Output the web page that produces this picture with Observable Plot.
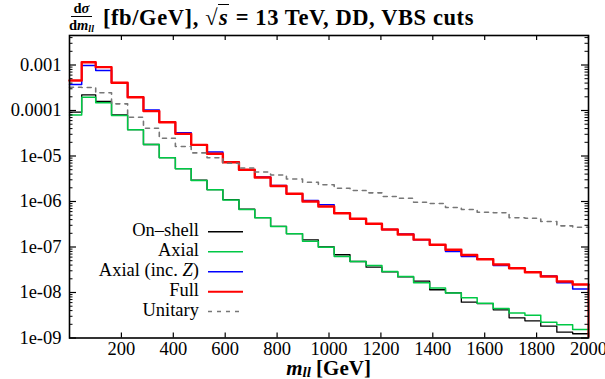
<!DOCTYPE html>
<html><head><meta charset="utf-8">
<script src="https://cdn.jsdelivr.net/npm/d3@7"></script>
<script src="https://cdn.jsdelivr.net/npm/@observablehq/plot@0.6"></script>
<style>
body{margin:0;background:#fff;font-family:"Liberation Serif",serif;color:#000}
#wrap{position:relative;width:605px;height:379px;overflow:hidden}
#title{position:absolute;left:69px;top:0;height:36px;font-weight:bold;font-size:22.5px;letter-spacing:0.6px;white-space:nowrap;display:flex;align-items:center}
.frac{display:inline-flex;flex-direction:column;align-items:center;font-size:14.5px;line-height:13px;margin-right:9px;letter-spacing:0}
.frac .num{border-bottom:1.3px solid #000;padding:0 3px 1px 3px}
.frac .den{padding-top:2px}
.sqrt{border-top:1.6px solid #000;padding:0 1px;line-height:20px}
#xlabel{position:absolute;left:0;width:657px;text-align:center;top:360px;line-height:16px;font-weight:bold;font-size:21px}
#xlabel sub{font-size:15px;vertical-align:-2px;line-height:0}
#legend{position:absolute;left:0;top:0}
</style></head>
<body><div id="wrap">
<div id="title"><span class="frac"><span class="num">d<i>σ</i></span><span class="den">d<i>m</i><i style="font-size:10px;vertical-align:-2px">ll</i></span></span><span>[fb/GeV], √<span class="sqrt"><i>s</i></span> = 13 TeV, DD, VBS cuts</span></div>
<div id="chart" style="position:absolute;left:0;top:34px"></div>
<div id="xlabel"><i>m</i><sub><i>ll</i></sub> [GeV]</div>
<svg id="legend" width="605" height="379"></svg>
</div>
<script>
// bin edges in GeV
const edges = [0, 47, 101, 162, 224, 285, 346, 408, 469, 530, 591, 653, 714, 775, 836, 898, 959, 1020, 1081, 1143, 1204, 1265, 1326, 1388, 1449, 1510, 1571, 1633, 1694, 1755, 1816, 1878, 1939, 2000];

const onShell = [9.18e-5, 2.21e-4, 1.58e-4, 7.96e-5, 3.8e-5, 1.79e-5, 9.25e-6, 5.3e-6, 2.93e-6, 1.83e-6, 1.1e-6, 6.83e-7, 4.44e-7, 2.85e-7, 1.97e-7, 1.44e-7, 1.01e-7, 6.75e-8, 4.8e-8, 3.6e-8, 2.83e-8, 2.2e-8, 1.77e-8, 1.15e-8, 9.8e-9, 6.12e-9, 5.7e-9, 4.17e-9, 2.78e-9, 2.38e-9, 1.82e-9, 1.34e-9, 1.24e-9];
const axial = [7.96e-5, 1.96e-4, 1.48e-4, 7.76e-5, 3.77e-5, 1.79e-5, 9.12e-6, 5.24e-6, 2.9e-6, 1.81e-6, 1.08e-6, 6.67e-7, 4.39e-7, 2.83e-7, 1.95e-7, 1.34e-7, 9.9e-8, 6.18e-8, 4.8e-8, 3.92e-8, 2.9e-8, 2.25e-8, 1.63e-8, 1.25e-8, 9.8e-9, 7.65e-9, 5.82e-9, 4.45e-9, 3.54e-9, 3.17e-9, 2.22e-9, 1.96e-9, 1.54e-9];
const axialZ = [3.72e-4, 9.75e-4, 7.57e-4, 4.06e-4, 1.96e-4, 1.02e-4, 5.53e-5, 3.25e-5, 1.76e-5, 1.22e-5, 7.5e-6, 4.98e-6, 3.45e-6, 2.25e-6, 1.48e-6, 1.05e-6, 8.45e-7, 5.53e-7, 4.17e-7, 3.24e-7, 2.43e-7, 1.92e-7, 1.45e-7, 1.12e-7, 7.96e-8, 6.18e-8, 5.4e-8, 3.9e-8, 3.42e-8, 2.85e-8, 2.3e-8, 1.63e-8, 1.2e-8];
const full = [4.56e-4, 1.15e-3, 8.96e-4, 4.06e-4, 1.96e-4, 9.7e-5, 5.53e-5, 3.07e-5, 1.76e-5, 1.12e-5, 7.3e-6, 4.98e-6, 3.37e-6, 2.19e-6, 1.48e-6, 1.0e-6, 7.76e-7, 5.53e-7, 4.17e-7, 3.24e-7, 2.43e-7, 1.88e-7, 1.45e-7, 1.12e-7, 8.67e-8, 6.67e-8, 5.4e-8, 4.12e-8, 3.42e-8, 2.79e-8, 2.25e-8, 1.75e-8, 1.5e-8];
const unitary = [3.25e-4, 3.2e-4, 2.45e-4, 1.4e-4, 7.13e-5, 4.08e-5, 2.46e-5, 1.62e-5, 1.17e-5, 9.12e-6, 6.95e-6, 5.44e-6, 4.44e-6, 3.82e-6, 3.13e-6, 2.65e-6, 2.33e-6, 1.96e-6, 1.75e-6, 1.55e-6, 1.29e-6, 1.18e-6, 9.66e-7, 9.04e-7, 7.38e-7, 6.67e-7, 5.82e-7, 5.65e-7, 4.39e-7, 4.3e-7, 3.63e-7, 2.92e-7, 2.72e-7];

const seriesNames = ["On–shell", "Axial", "Axial (inc. Z)", "Full", "Unitary"];
const seriesColors = ["#000000", "#00c845", "#0000ff", "#ff0000", "#777777"];
const xTicks = [200, 400, 600, 800, 1000, 1200, 1400, 1600, 1800, 2000];
const yTicks = [1e-3, 1e-4, 1e-5, 1e-6, 1e-7, 1e-8, 1e-9];
const yTickLabels = ["0.001", "0.0001", "1e-05", "1e-06", "1e-07", "1e-08", "1e-09"];
const yDomain = [1e-9, 4.45e-3];

const yMinor = [];
for (let e = -9; e <= -3; e++) for (let m = 2; m <= 9; m++) { const v = m * Math.pow(10, e); if (v < yDomain[1]) yMinor.push(v); }

function steps(vals) {
  const pts = vals.map((v, i) => ({x: edges[i], y: v}));
  pts.push({x: edges[edges.length - 1], y: vals[vals.length - 1]});
  return pts;
}
const widths = [1.3, 1.5, 1.5, 2.4, 1.6];
const allSeries = [onShell, axial, axialZ, full, unitary];

const W = 605, H = 345, mT = 1, mB = 41.5, mL = 69, mR = 17;
const innerW = W - mL - mR, innerH = H - mT - mB;
const majorLen = 7, minorLen = 3.5, xTickLen = 5;

const lineMarks = allSeries.map((s, i) => Plot.line(steps(s), {
  x: "x", y: "y", curve: "step-after", stroke: seriesColors[i], strokeWidth: widths[i],
  strokeDasharray: i === 4 ? "4,5" : null
}));

const plot = Plot.plot({
  width: W, height: H,
  marginTop: mT, marginBottom: mB, marginLeft: mL, marginRight: mR,
  x: {domain: [0, 2000]},
  y: {type: "log", domain: yDomain},
  style: {fontFamily: "'Liberation Serif', serif", fontSize: "18.5px", color: "#000", background: "#fff", overflow: "visible"},
  marks: [
    ...lineMarks.slice(0, 4),
    Plot.ruleX([edges[edges.length - 1]], {y1: full[full.length - 1], y2: yDomain[0], stroke: seriesColors[3], strokeWidth: 2}),
    lineMarks[4],
    // inward ticks
    Plot.ruleX(xTicks, {insetTop: innerH - xTickLen, stroke: "#000", strokeWidth: 1.2}),
    Plot.ruleX(xTicks, {insetBottom: innerH - xTickLen, stroke: "#000", strokeWidth: 1.2}),
    Plot.ruleY(yTicks, {insetRight: innerW - majorLen, stroke: "#000", strokeWidth: 1.2}),
    Plot.ruleY(yTicks, {insetLeft: innerW - majorLen, stroke: "#000", strokeWidth: 1.2}),
    Plot.ruleY(yMinor, {insetRight: innerW - minorLen, stroke: "#000", strokeWidth: 1}),
    Plot.ruleY(yMinor, {insetLeft: innerW - minorLen, stroke: "#000", strokeWidth: 1}),
    Plot.frame({stroke: "#000", strokeWidth: 1.6}),
    Plot.axisX({anchor: "bottom", ticks: xTicks, tickSize: 0, tickPadding: 4, label: null, tickFormat: d => String(d)}),
    Plot.axisY({anchor: "left", ticks: yTicks, tickSize: 0, tickPadding: 8, label: null, tickFormat: d => yTickLabels[yTicks.indexOf(d)]})
  ]
});
document.getElementById("chart").appendChild(plot);

// legend
const leg = d3.select("#legend");
const rowY = [231.7, 251.7, 271.7, 291.7, 311.5];
seriesNames.forEach((name, i) => {
  const t = leg.append("text").attr("x", 199).attr("y", rowY[i]).attr("text-anchor", "end")
    .attr("dominant-baseline", "middle").attr("font-family", "'Liberation Serif', serif").attr("font-size", "18.5px");
  if (name.includes("Z)")) {
    t.append("tspan").text("Axial (inc. ");
    t.append("tspan").attr("font-style", "italic").text("Z");
    t.append("tspan").text(")");
  } else t.text(name);
  leg.append("line").attr("x1", 208).attr("x2", 243).attr("y1", rowY[i]).attr("y2", rowY[i])
    .attr("stroke", seriesColors[i]).attr("stroke-width", widths[i] > 2 ? 2 : 1.5)
    .attr("stroke-dasharray", i === 4 ? "4,5" : null);
});
</script>
</body></html>
